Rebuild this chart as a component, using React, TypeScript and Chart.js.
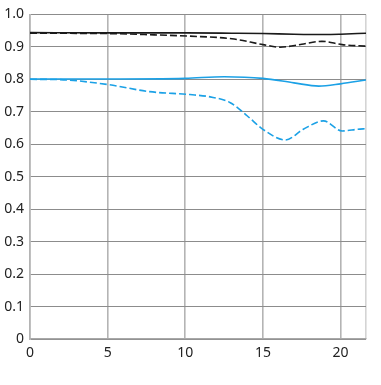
import React, { useEffect, useRef } from "react";
import { Chart, registerables } from "chart.js";

Chart.register(...registerables);

const xMax = 21.64;
const xTicks = [0, 5, 10, 15, 20];
const yTicks = [0, 0.1, 0.2, 0.3, 0.4, 0.5, 0.6, 0.7, 0.8, 0.9, 1.0];

const blackSolidX = [0, 5, 10, 13, 15, 17, 19, 20, 21.64];
const blackSolidY = [0.944, 0.943, 0.943, 0.942, 0.941, 0.939, 0.938, 0.939, 0.942];

const blackDashedX = [0, 5, 8, 10.3, 13, 15, 16.1, 17.5, 18.8, 20.1, 21.64];
const blackDashedY = [0.942, 0.941, 0.937, 0.933, 0.925, 0.907, 0.899, 0.908, 0.917, 0.907, 0.902];

const blueSolidX = [0, 5, 10, 12.5, 15, 17, 18.6, 20, 21.64];
const blueSolidY = [0.801, 0.801, 0.803, 0.808, 0.803, 0.789, 0.779, 0.786, 0.798];

const blueDashedX = [0, 1.9, 5, 7.7, 10.3, 11.6, 12.9, 14, 15, 16.45, 17.6, 18.9, 20.1, 21.1, 21.64];
const blueDashedY = [0.8, 0.799, 0.784, 0.762, 0.753, 0.746, 0.728, 0.687, 0.646, 0.613, 0.646, 0.672, 0.641, 0.646, 0.648];

const BLACK = "#1a1a1a";
const BLUE = "#1ba1e6";

function pts(xs: number[], ys: number[]) {
  return xs.map((x, i) => ({ x, y: ys[i] }));
}

export default function App() {
  const ref = useRef<HTMLCanvasElement | null>(null);
  useEffect(() => {
    if (!ref.current) return;
    const chart = new Chart(ref.current, {
      type: "line",
      data: {
        datasets: [
          { data: pts(blackSolidX, blackSolidY), borderColor: BLACK, borderWidth: 1.6 },
          { data: pts(blackDashedX, blackDashedY), borderColor: BLACK, borderWidth: 1.6, borderDash: [7, 3] },
          { data: pts(blueSolidX, blueSolidY), borderColor: BLUE, borderWidth: 1.6 },
          { data: pts(blueDashedX, blueDashedY), borderColor: BLUE, borderWidth: 1.6, borderDash: [7, 3] },
        ],
      },
      options: {
        animation: false,
        responsive: false,
        maintainAspectRatio: false,
        layout: { padding: { left: 0, right: 15, top: 13, bottom: 0 } },
        elements: {
          point: { radius: 0 },
          line: { cubicInterpolationMode: "monotone", fill: false },
        },
        plugins: { legend: { display: false }, tooltip: { enabled: false } },
        scales: {
          x: {
            type: "linear",
            min: 0,
            max: xMax,
            afterBuildTicks: (s: any) => {
              s.ticks = [...xTicks, xMax].map((v) => ({ value: v }));
            },
            afterFit: (s: any) => {
              s.height = 46;
            },
            ticks: {
              color: "#222",
              font: { family: "Noto Sans", size: 14 },
              padding: 6,
              maxRotation: 0,
              autoSkip: false,
              callback: (v: any) => (xTicks.includes(Number(v)) ? String(v) : ""),
            },
            grid: {
              color: (ctx: any) => (ctx.tick && ctx.tick.value === xMax ? "#d4d4d4" : "#b4b4b4"),
              lineWidth: 1.6,
              drawTicks: false,
            },
            border: { display: true, color: "#a8a8a8", width: 1.2 },
          },
          y: {
            type: "linear",
            min: 0,
            max: 1,
            afterBuildTicks: (s: any) => {
              s.ticks = yTicks.map((v) => ({ value: v }));
            },
            afterFit: (s: any) => {
              s.width = 30;
            },
            ticks: {
              color: "#222",
              font: { family: "Noto Sans", size: 14 },
              padding: 6,
              autoSkip: false,
              callback: (v: any) => {
                const n = Number(v);
                if (n === 0) return "0";
                return n.toFixed(1);
              },
            },
            grid: { color: "#8c8c8c", lineWidth: 1, drawTicks: false },
            border: { display: true, color: "#b4b4b4", width: 1.6 },
          },
        },
      },
    });
    return () => chart.destroy();
  }, []);
  return (
    <div style={{ position: "fixed", left: 0, top: 0, width: 381, height: 385 }}>
      <canvas ref={ref} width={381} height={385} style={{ width: 381, height: 385 }} />
    </div>
  );
}
